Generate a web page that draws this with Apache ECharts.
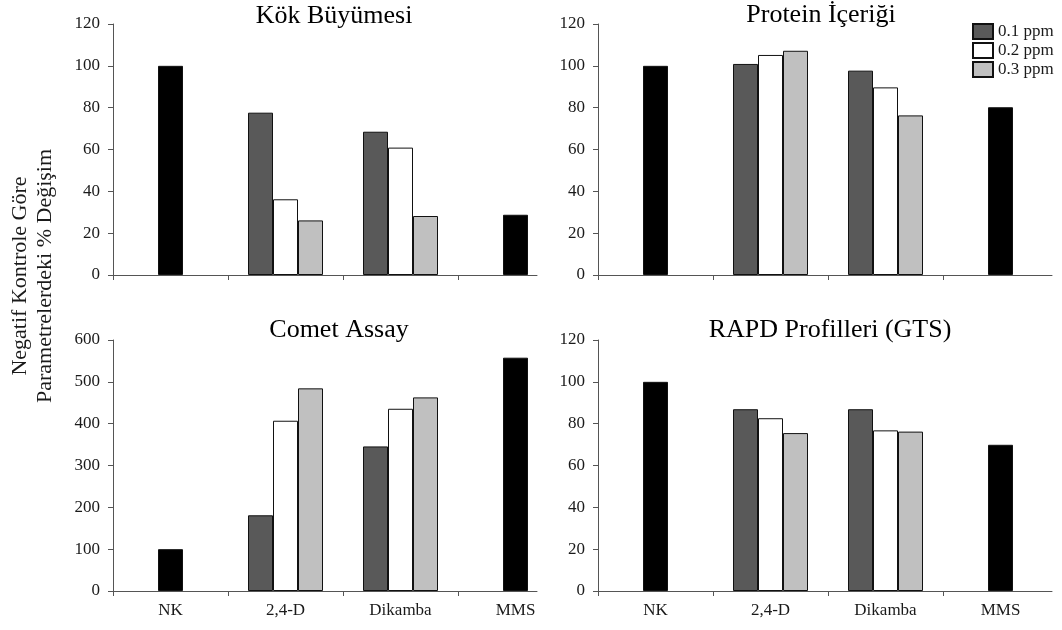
<!DOCTYPE html>
<html>
<head>
<meta charset="utf-8">
<script src="https://cdn.jsdelivr.net/npm/echarts@6/dist/echarts.min.js"></script>
<style>
  html, body { margin: 0; padding: 0; background: #fff; }
  #chart { width: 1062px; height: 630px; }
</style>
</head>
<body>
<div id="chart"></div>
<script>
// kategoriler ve seriler
const categories = ['NK', '2,4-D', 'Dikamba', 'MMS']
const seriesNames = ['0.1 ppm', '0.2 ppm', '0.3 ppm']
const panelTitles = ['Kök Büyümesi', 'Protein İçeriği', 'Comet Assay', 'RAPD Profilleri (GTS)']

// Kök Büyümesi
const kokControl = [100, null, null, 28.8]
const kok01 = [null, 77.6, 68.5, null]
const kok02 = [null, 36.2, 60.9, null]
const kok03 = [null, 26.1, 28.2, null]

// Protein İçeriği
const proteinControl = [100, null, null, 80.2]
const protein01 = [null, 100.9, 97.7, null]
const protein02 = [null, 105.2, 89.7, null]
const protein03 = [null, 107.2, 76.3, null]

// Comet Assay
const cometControl = [100, null, null, 557.7]
const comet01 = [null, 181, 345.6, null]
const comet02 = [null, 407, 435.6, null]
const comet03 = [null, 484.4, 462.8, null]

// RAPD Profilleri (GTS)
const rapdControl = [100, null, null, 69.9]
const rapd01 = [null, 86.9, 86.9, null]
const rapd02 = [null, 82.6, 76.8, null]
const rapd03 = [null, 75.5, 76.2, null]

// y ekseni ölçekleri
const yMax = [120, 120, 600, 120]
const yStep = [20, 20, 100, 20]

const FONT = '"Liberation Serif", "Times New Roman", serif'
const AXIS_COLOR = '#555'
const TEXT_COLOR = '#1a1a1a'

// panel yerleşimi (px)
const grids = [
  { left: 113, top: 24, width: 424, height: 251 },
  { left: 598, top: 24, width: 454, height: 251 },
  { left: 113, top: 340, width: 424, height: 251 },
  { left: 598, top: 340, width: 454, height: 251 }
]
const CAT_PX = 115 // one category band in px
const titlePos = [
  { left: 334, top: 3 },
  { left: 821, top: 2 },
  { left: 339, top: 317 },
  { left: 830, top: 317 }
]

const colors = { c01: '#595959', c02: '#ffffff', c03: '#c0c0c0', control: '#000000' }

const toPoints = (vals) => vals.map((v, i) => [i + 0.5, v])

function panelSeries (idx, control, v01, v02, v03) {
  const common = {
    type: 'bar',
    xAxisIndex: idx,
    yAxisIndex: idx,
    barWidth: 25,
    barGap: '0%',
    emphasis: { disabled: true }
  }
  return [
    {
      ...common,
      name: seriesNames[0],
      itemStyle: { color: colors.c01, borderColor: '#111', borderWidth: 1 },
      data: toPoints(v01)
    },
    {
      ...common,
      name: seriesNames[1],
      itemStyle: { color: colors.c02, borderColor: '#111', borderWidth: 1 },
      // NK ve MMS kontrol çubukları ortadaki konumda çizilir
      data: v02.map((v, i) => control[i] != null
        ? { value: [i + 0.5, control[i]], itemStyle: { color: colors.control } }
        : [i + 0.5, v])
    },
    {
      ...common,
      name: seriesNames[2],
      itemStyle: { color: colors.c03, borderColor: '#111', borderWidth: 1 },
      data: toPoints(v03)
    }
  ]
}

const xAxes = grids.map((g, i) => ({
  type: 'value',
  gridIndex: i,
  min: 0,
  max: g.width / CAT_PX,
  axisLine: { show: true, onZero: false, lineStyle: { color: AXIS_COLOR, width: 1 } },
  axisTick: {
    show: true,
    length: 5,
    customValues: categories.map((c, k) => k),
    lineStyle: { color: AXIS_COLOR }
  },
  axisLabel: {
    show: i >= 2,
    customValues: categories.map((c, k) => k + 0.5),
    formatter: (v) => categories[Math.floor(v)],
    margin: 11,
    fontFamily: FONT,
    fontSize: 17,
    color: TEXT_COLOR
  },
  splitLine: { show: false }
}))

const yAxes = grids.map((g, i) => ({
  type: 'value',
  gridIndex: i,
  min: 0,
  max: yMax[i],
  interval: yStep[i],
  axisLine: { show: true, lineStyle: { color: AXIS_COLOR, width: 1 } },
  axisTick: { show: true, length: 5, lineStyle: { color: AXIS_COLOR } },
  axisLabel: { margin: 13, fontFamily: FONT, fontSize: 17, color: TEXT_COLOR },
  splitLine: { show: false }
}))

const option = {
  animation: false,
  backgroundColor: '#fff',
  title: panelTitles.map((t, i) => ({
    text: t,
    left: titlePos[i].left,
    top: titlePos[i].top,
    textAlign: 'center',
    padding: 0,
    textStyle: { fontFamily: FONT, fontSize: 26, fontWeight: 'normal', color: '#000' }
  })),
  legend: {
    data: seriesNames,
    orient: 'vertical',
    left: 972,
    top: 23,
    padding: 0,
    itemWidth: 20,
    itemHeight: 15,
    itemGap: 2,
    icon: 'rect',
    textStyle: { fontFamily: FONT, fontSize: 17, color: TEXT_COLOR }
  },
  grid: grids,
  xAxis: xAxes,
  yAxis: yAxes,
  graphic: [
    {
      type: 'text',
      x: 33,
      y: 276,
      rotation: Math.PI / 2,
      style: {
        text: 'Negatif Kontrole Göre\nParametrelerdeki % Değişim',
        align: 'center',
        verticalAlign: 'middle',
        font: '22px ' + FONT,
        lineHeight: 25,
        fill: TEXT_COLOR
      }
    }
  ],
  series: [
    ...panelSeries(0, kokControl, kok01, kok02, kok03),
    ...panelSeries(1, proteinControl, protein01, protein02, protein03),
    ...panelSeries(2, cometControl, comet01, comet02, comet03),
    ...panelSeries(3, rapdControl, rapd01, rapd02, rapd03)
  ]
}

const myChart = echarts.init(document.getElementById('chart'))
myChart.setOption(option)
</script>
</body>
</html>
